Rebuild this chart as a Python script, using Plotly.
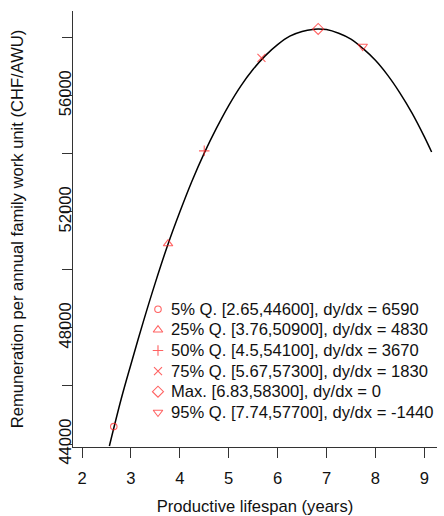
import plotly.graph_objects as go

# Fitted curve
curve_x = [2.56, 2.8, 3.0, 3.25, 3.5, 3.75, 4.0, 4.25, 4.5, 4.75, 5.0, 5.25, 5.5, 5.75, 6.0, 6.25, 6.5, 6.75, 6.83, 7.0, 7.25, 7.5, 7.75, 8.0, 8.25, 8.5, 8.75, 9.0, 9.15]
curve_y = [43930, 45540, 46740, 48190, 49560, 50840, 51990, 53060, 54020, 54880, 55660, 56340, 56910, 57380, 57760, 58050, 58210, 58290, 58300, 58280, 58150, 57950, 57620, 57220, 56710, 56100, 55400, 54590, 54060]

# Highlighted points
pt_x = [2.65, 3.76, 4.5, 5.67, 6.83, 7.74]
pt_y = [44600, 50900, 54100, 57300, 58300, 57700]
pt_labels = [
    "5% Q. [2.65,44600], dy/dx = 6590",
    "25% Q. [3.76,50900], dy/dx = 4830",
    "50% Q. [4.5,54100], dy/dx = 3670",
    "75% Q. [5.67,57300], dy/dx = 1830",
    "Max. [6.83,58300], dy/dx = 0",
    "95% Q. [7.74,57700], dy/dx = -1440",
]
pt_symbols = ["circle-open", "triangle-up-open", "cross-thin-open", "x-thin-open", "diamond-open", "triangle-down-open"]
pt_sizes = [6.5, 8.3, 7.5, 8, 8.5, 8.3]

x_title = "Productive lifespan (years)"
y_title = "Remuneration per annual family work unit (CHF/AWU)"

FONT = "Liberation Sans, Arial, sans-serif"
FS = 16.6
RED = "#ff2020"
TXT = "#111"

fig = go.Figure()
fig.add_trace(go.Scatter(x=curve_x, y=curve_y, mode="lines", line=dict(color="black", width=1.5, shape="spline"),
                         showlegend=False, hoverinfo="skip"))
fig.add_trace(go.Scatter(x=pt_x, y=pt_y, mode="markers",
                         marker=dict(symbol=pt_symbols, size=pt_sizes, color=RED, line=dict(color=RED, width=1.1)),
                         showlegend=False))

# Custom legend (rows drawn on an overlay axis spanning the plot area)
leg_sym_x = 0.2335
leg_txt_x = 0.2637
leg_top = 0.3158
leg_step = 0.04725
leg_y = [leg_top - i * leg_step for i in range(len(pt_labels))]
fig.add_trace(go.Scatter(x=[leg_sym_x] * len(pt_labels), y=leg_y, mode="markers", xaxis="x2", yaxis="y2",
                         marker=dict(symbol=pt_symbols, size=pt_sizes, color=RED, line=dict(color=RED, width=1.1)),
                         showlegend=False, hoverinfo="skip"))
for lab, yv in zip(pt_labels, leg_y):
    fig.add_annotation(x=leg_txt_x, y=yv, xref="x2", yref="y2", text=lab, showarrow=False,
                       xanchor="left", yanchor="middle", xshift=0, font=dict(family=FONT, size=FS, color=TXT))

fig.update_layout(
    width=444, height=516,
    margin=dict(l=73, r=7, t=11, b=69),
    plot_bgcolor="white", paper_bgcolor="white",
    font=dict(family=FONT, size=FS, color=TXT),
    showlegend=False,
    xaxis=dict(range=[1.816, 9.26], tickmode="linear", tick0=2, dtick=1, showgrid=False, zeroline=False,
               showline=True, linecolor="#333", linewidth=1, ticks="outside", ticklen=10, tickcolor="#333",
               automargin=False, tickfont=dict(size=FS), ticklabelstandoff=6,
               title=dict(text=x_title, standoff=15, font=dict(size=FS))),
    yaxis=dict(range=[43897, 58918], tickmode="linear", tick0=44000, dtick=4000, tickformat="d",
               showgrid=False, zeroline=False,
               showline=True, linecolor="#333", linewidth=1, ticks="outside", ticklen=10, tickcolor="#333",
               tickangle=-90, ticklabelstandoff=-16, automargin=False, tickfont=dict(size=FS),
               minor=dict(dtick=2000, tick0=44000, ticks="outside", ticklen=10, tickcolor="#333", showgrid=False),
               title=dict(text=y_title, standoff=28, font=dict(size=FS))),
    xaxis2=dict(range=[0, 1], overlaying="x", visible=False, fixedrange=True),
    yaxis2=dict(range=[0, 1], overlaying="y", visible=False, fixedrange=True),
)

fig.write_html("out.html", config={"displayModeBar": False},
               post_script="document.body.style.margin='0';document.body.style.overflow='hidden';")
